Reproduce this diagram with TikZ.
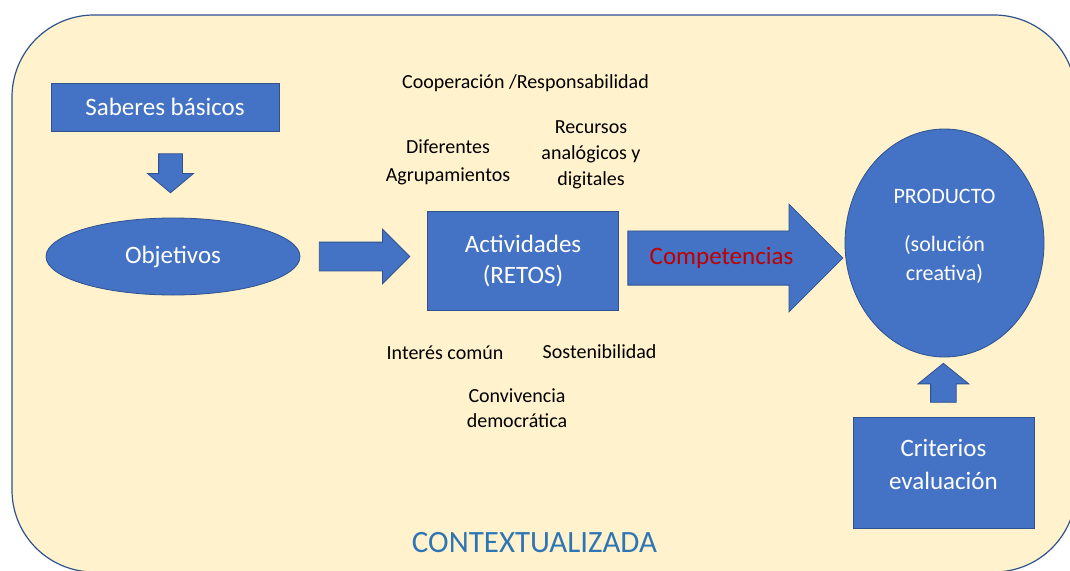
\documentclass[tikz,border=0pt]{standalone}
\usepackage{fontspec}
\setmainfont{Carlito}
\usetikzlibrary{shapes.geometric,shapes.arrows,calc}
\definecolor{crema}{HTML}{FFF2CC}
\definecolor{azul}{HTML}{4472C4}
\definecolor{azulborde}{HTML}{2F528F}
\definecolor{rojo}{HTML}{C00000}
\definecolor{azultexto}{HTML}{2E75B6}
\tikzset{
  caja/.style = {rectangle, fill = azul, draw = azulborde, line width = .8pt, text = white, align = center, font = \fontsize{25}{31}\selectfont},
  elipse/.style = {ellipse, fill = azul, draw = azulborde, line width = .8pt, text = white, inner sep = 0pt},
  flecha/.style = {single arrow, fill = azul, draw = azulborde, line width = .8pt, inner xsep = 0pt, anchor = tail, single arrow tip angle = 90},
  rotulo/.style = {align = center, font = \fontsize{20}{26}\selectfont}
}
\begin{document}
\begin{tikzpicture}[x = 1pt, y = -1pt]
	\useasboundingbox (0,0) rectangle (1070,570);
	\clip (0,0) rectangle (1070,570);
	\draw[fill = crema, draw = azulborde, line width = 1.2pt, rounded corners = 82pt] (12,15) rectangle (1076,572);
	% cajas y elipses
	\node[caja, minimum width = 228pt, minimum height = 48pt] (sab) at (165,107) {Saberes básicos};
	\node[elipse, minimum width = 254pt, minimum height = 77pt, font = \fontsize{25}{30}\selectfont] (obj) at (173,256.5) {Objetivos};
	\node[caja, minimum width = 191.5pt, minimum height = 99pt] (act) at (523,261) {Actividades\\(RETOS)};
	\node[elipse, minimum width = 199pt, minimum height = 228pt] (prod) at (944.5,243) {};
	\node[text = white, align = center, font = \fontsize{22}{29}\selectfont] (prodtxt) at (prod.center) [yshift = 6.5pt] {PRODUCTO\\[19pt](solución\\creativa)};
	\node[caja, minimum width = 181pt, minimum height = 111pt] (crit) at (943.4,472.4) {};
	\node[text = white, align = center, font = \fontsize{25}{32.5}\selectfont] (crittxt) at (crit.center) [yshift = 8pt] {Criterios\\evaluación};
	% flechas
	\node[flecha, shape border rotate = 270, inner xsep = 11.5pt, inner ysep = 0pt, single arrow head extend = 11pt, minimum height = 39pt, single arrow tip angle = 100] (fsab) at ($(sab.south)+(5.5,22)$) {};
	\node[flecha, inner ysep = 14pt, single arrow head extend = 13pt, minimum height = 90.5pt] (fobj) at ($(obj.east)+(18.5,0)$) {};
	\node[flecha, inner ysep = 26.7pt, single arrow head extend = 26.7pt, minimum height = 215pt] (fcomp) at ($(act.east)+(8.3,-3)$) {};
	\node[text = rojo, font = \fontsize{25}{30}\selectfont] (comp) at (721.5,258) {Competencias};
	\node[flecha, shape border rotate = 90, inner xsep = 12.4pt, inner ysep = 0pt, single arrow head extend = 12.6pt, minimum height = 39pt, single arrow tip angle = 102] (fcrit) at ($(crit.north)+(0,-13.8)$) {};
	% rotulos
	\node[rotulo] (coop) at (525.5,83) {Cooperación /Responsabilidad};
	\node[rotulo, font = \fontsize{20}{28}\selectfont] (dif) at (448,162) {Diferentes\\Agrupamientos};
	\node[rotulo] (rec) at (591,155) {Recursos\\analógicos y\\digitales};
	\node[rotulo] (inter) at (445,352.7) {Interés común};
	\node[rotulo] (sost) at (599.6,351.7) {Sostenibilidad};
	\node[rotulo, font = \fontsize{20}{25}\selectfont] (conv) at (517,408) {Convivencia\\democrática};
	\node[text = azultexto, font = \fontsize{31}{36}\selectfont] (ctx) at (534.5,543) {CONTEXTUALIZADA};
\end{tikzpicture}
\end{document}
